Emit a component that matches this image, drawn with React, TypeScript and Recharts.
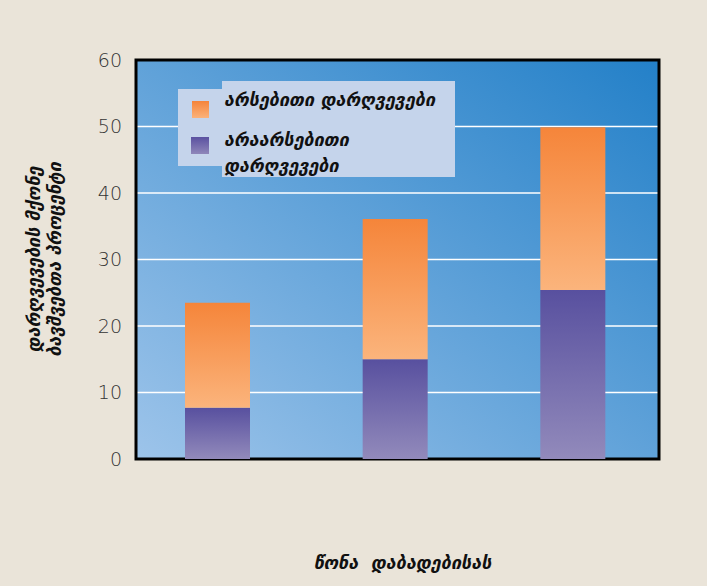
import * as R from 'recharts';
import { BarChart, Bar, XAxis, YAxis, CartesianGrid, Legend } from 'recharts';

const categories = ['1', '2', '3'];
const minorValues = [7.7, 15.0, 25.4];
const majorValues = [15.8, 21.1, 24.5];
const yTicks = [0, 10, 20, 30, 40, 50, 60];

const majorName = 'არსებითი დარღვევები';
const minorName = 'არაარსებითი დარღვევები';
const xTitle = 'წონა  დაბადებისას';
const yTitle = ['დარღვევების მქონე', 'ბავშვებთა პროცენტი'];

const data = categories.map((c, i) => ({
  name: c,
  minor: minorValues[i],
  major: majorValues[i],
}));

const titleFont = {
  fontFamily: 'DejaVu Sans',
  fontWeight: 700,
  fontStyle: 'italic' as const,
  fontSize: 18,
  fill: '#111',
};

const YTitle = ({ viewBox }: any) => {
  const cy = viewBox.y + viewBox.height / 2;
  return (
    <g>
      {yTitle.map((line, i) => (
        <text
          key={i}
          x={viewBox.x + 35 + i * 21}
          y={cy}
          transform={`rotate(-90 ${viewBox.x + 35 + i * 21} ${cy})`}
          textAnchor="middle"
          dominantBaseline="middle"
          style={titleFont}
        >
          {line}
        </text>
      ))}
    </g>
  );
};

const XTitle = ({ viewBox }: any) => (
  <text
    x={viewBox.x + viewBox.width / 2 + 5}
    y={viewBox.y + 110}
    textAnchor="middle"
    style={{ ...titleFont, whiteSpace: 'pre' }}
  >
    {xTitle}
  </text>
);

// black frame round the plot area, drawn on top of the bars
const PlotBorder = () => {
  const usePlotArea = (R as any).usePlotArea;
  const area = usePlotArea ? usePlotArea() : null;
  if (!area) return null;
  return (
    <rect
      x={area.x}
      y={area.y}
      width={area.width}
      height={area.height}
      fill="none"
      stroke="#000"
      strokeWidth={3}
    />
  );
};

const LegendBox = () => {
  const text = {
    fontFamily: 'DejaVu Sans',
    fontWeight: 700,
    fontStyle: 'italic',
    fontSize: 18,
    color: '#111',
    lineHeight: '26px',
  } as const;
  return (
    <div style={{ position: 'relative', width: 277, height: 96 }}>
      <div style={{ position: 'absolute', left: 0, top: 8, width: 44, height: 77, background: '#C5D4EB' }} />
      <div style={{ position: 'absolute', left: 44, top: 0, width: 233, height: 96, background: '#C5D4EB' }} />
      <div
        style={{
          position: 'absolute', left: 14, top: 20, width: 17, height: 17,
          background: 'linear-gradient(#F5843A, #FBB27A)',
        }}
      />
      <div
        style={{
          position: 'absolute', left: 13, top: 56, width: 18, height: 17,
          background: 'linear-gradient(#5A51A0, #8F87BA)',
        }}
      />
      <div style={{ position: 'absolute', left: 46, top: 6, whiteSpace: 'nowrap', ...text }}>{majorName}</div>
      <div style={{ position: 'absolute', left: 46, top: 46, width: 200, ...text }}>{minorName}</div>
    </div>
  );
};

export default function App() {
  return (
    <div style={{ position: 'absolute', left: 0, top: 0, width: 707, height: 586, background: '#EAE4D9' }}>
      <BarChart
        width={707}
        height={586}
        data={data}
        margin={{ top: 60, right: 48, bottom: 0, left: 0 }}
        barSize={65}
      >
        <defs>
          <linearGradient id="bgGrad" x1="0" y1="1" x2="1" y2="0">
            <stop offset="0%" stopColor="#9DC4EA" />
            <stop offset="100%" stopColor="#2380C8" />
          </linearGradient>
          <linearGradient id="orangeGrad" x1="0" y1="0" x2="0" y2="1">
            <stop offset="0%" stopColor="#F5853A" />
            <stop offset="100%" stopColor="#FBB47C" />
          </linearGradient>
          <linearGradient id="purpleGrad" x1="0" y1="0" x2="0" y2="1">
            <stop offset="0%" stopColor="#58509F" />
            <stop offset="100%" stopColor="#928ABB" />
          </linearGradient>
        </defs>
        <CartesianGrid
          vertical={false}
          stroke="#FFFFFF"
          strokeWidth={1.5}
          fill="url(#bgGrad)"
          fillOpacity={1}
        />
        <XAxis
          dataKey="name"
          height={127}
          padding={{ left: -7, right: -3 }}
          tick={false}
          tickLine={false}
          axisLine={false}
          label={<XTitle />}
        />
        <YAxis
          width={136}
          domain={[0, 60]}
          ticks={yTicks}
          tickLine={false}
          tickSize={0}
          tickMargin={14}
          axisLine={false}
          tick={{ fill: '#333', fontSize: 19, fontFamily: 'DejaVu Sans', fontWeight: 300 }}
          label={<YTitle />}
        />
        <Legend
          layout="horizontal"
          verticalAlign="middle"
          align="center"
          wrapperStyle={{ left: 178, top: 81, width: 277, height: 96 }}
          content={<LegendBox />}
        />
        <Bar dataKey="minor" name={minorName} stackId="a" fill="url(#purpleGrad)" isAnimationActive={false} />
        <Bar dataKey="major" name={majorName} stackId="a" fill="url(#orangeGrad)" isAnimationActive={false} />
        <PlotBorder />
      </BarChart>
    </div>
  );
}
